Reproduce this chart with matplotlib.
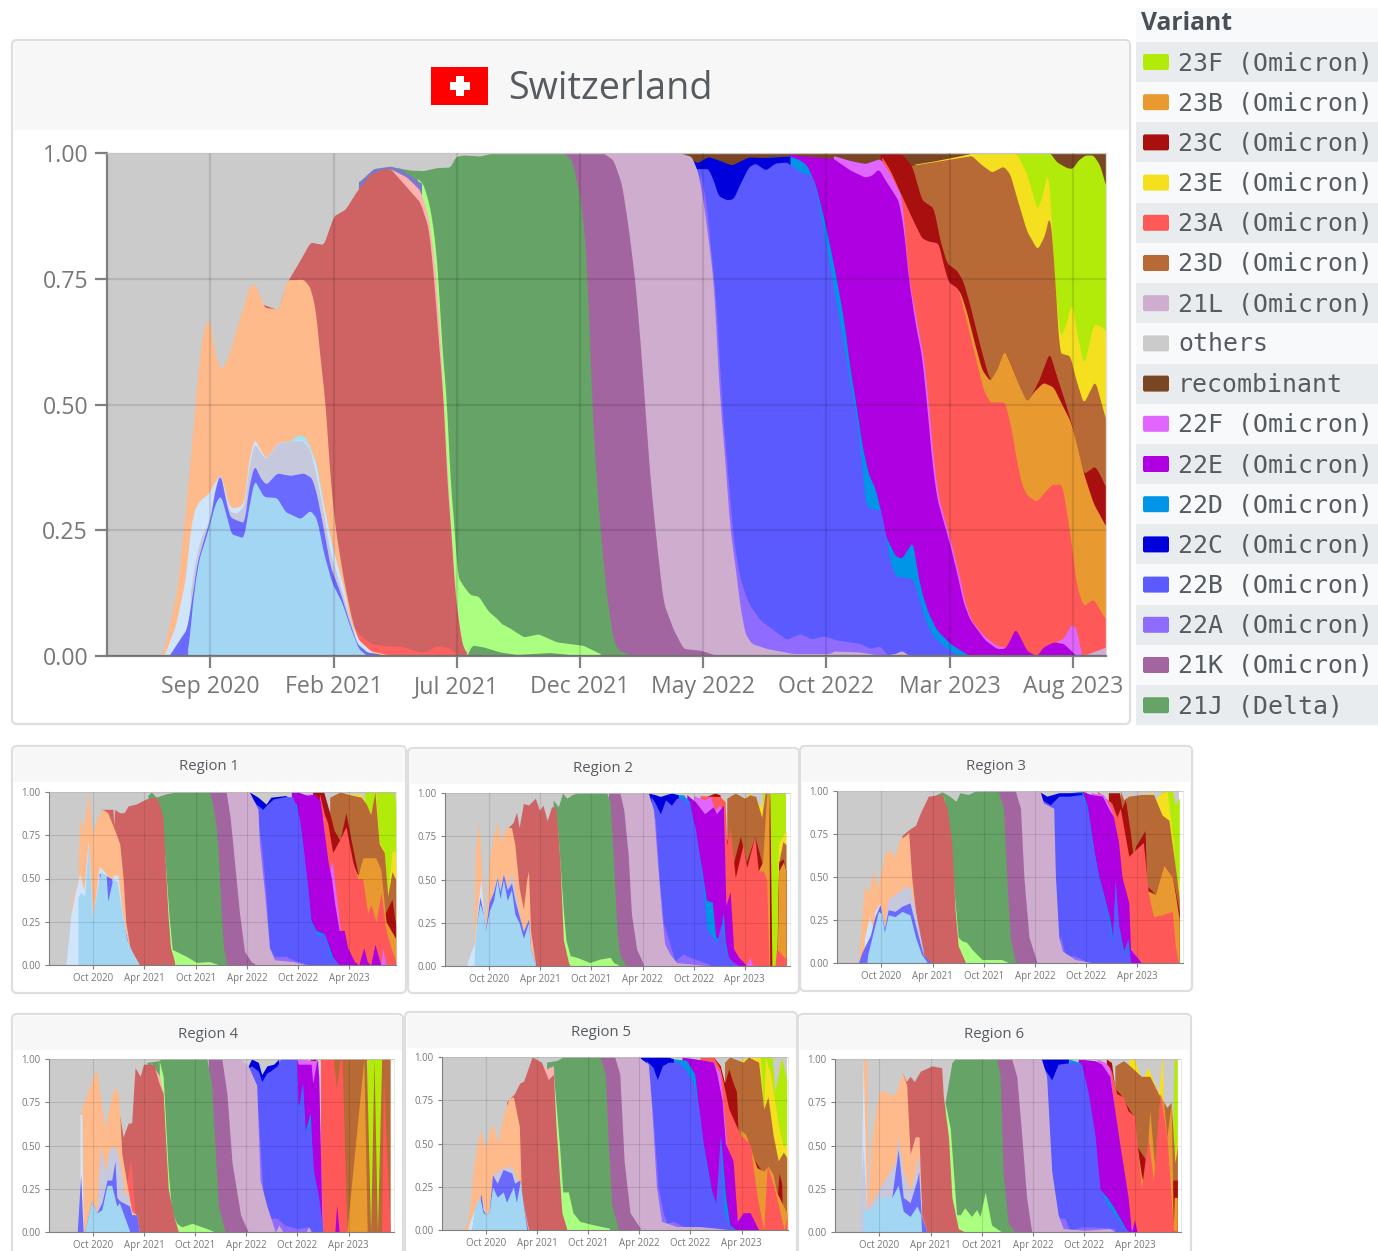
"""
Variant share per region: one large Switzerland stacked chart, six small regions.
Layers are kept as (month, cumulative share) lists. Month 0 = Jan 2020.
"""

import numpy as np
import matplotlib
matplotlib.use("Agg")
import matplotlib.pyplot as plt
from matplotlib.patches import FancyBboxPatch, Rectangle

W, H = 1378, 1251
FONT = "Open Sans"

COLORS = {
    "others": "#cbcbcb", "recombinant": "#7a4523", "23F": "#b2eb0a", "23E": "#f5e020",
    "23D": "#b86a36", "23C": "#a81010", "23B": "#e89a30", "23A": "#ff5858",
    "22F": "#e066ff", "22E": "#ae00e0", "22D": "#0095e6", "22C": "#0000dd",
    "22B": "#5a5aff", "22A": "#8f6bff", "21L": "#ceadcf", "21K": "#a3659f",
    "21J": "#66a366", "21I": "#aaff80", "21A": "#66a366", "20K": "#7a7ac8",
    "20J": "#ffb0b0", "20I": "#cf6363", "20H": "#ff6060", "20E": "#ffba8c",
    "20D": "#a0e3f5", "20G": "#cfe5fb", "20C": "#c6c9dd", "20B": "#6a6aff",
    "20A": "#a3d6f3",
}
# first painted (top of the stack) to last painted (bottom of the stack)
STACK = ["others", "recombinant", "23F", "23E", "23D", "23C", "23B", "23A", "22F", "22E",
         "22D", "22C", "22B", "22A", "21L", "21K", "21J", "21I", "21A", "20K", "20J",
         "20I", "20H", "20E", "20D", "20G", "20C", "20B", "20A"]

LEGEND_NAMES = ["23F (Omicron)", "23B (Omicron)", "23C (Omicron)", "23E (Omicron)",
                "23A (Omicron)", "23D (Omicron)", "21L (Omicron)", "others", "recombinant",
                "22F (Omicron)", "22E (Omicron)", "22D (Omicron)", "22C (Omicron)",
                "22B (Omicron)", "22A (Omicron)", "21K (Omicron)", "21J (Delta)"]
LEGEND_KEYS = ["23F", "23B", "23C", "23E", "23A", "23D", "21L", "others", "recombinant",
               "22F", "22E", "22D", "22C", "22B", "22A", "21K", "21J"]

MAIN_TICKS = [8, 13, 18, 23, 28, 33, 38, 43]
MAIN_TICK_LABELS = ["Sep 2020", "Feb 2021", "Jul 2021", "Dec 2021", "May 2022", "Oct 2022",
                    "Mar 2023", "Aug 2023"]
SMALL_TICKS = [9, 15, 21, 27, 33, 39]
SMALL_TICK_LABELS = ["Oct 2020", "Apr 2021", "Oct 2021", "Apr 2022", "Oct 2022", "Apr 2023"]
Y_TICKS = [0, 0.25, 0.5, 0.75, 1]
Y_TICK_LABELS = ["0.00", "0.25", "0.50", "0.75", "1.00"]

# ---- Switzerland ----
CH_others = [(3.81, 1), (44.34, 1)]
CH_recombinant = [(26.1, 1), (44.34, 1)]
CH_23F = [(40.71, 1), (42.07, 1), (42.34, .982), (42.74, .971), (42.97, .969), (43.21, .986),
          (43.48, .996), (43.82, .996), (44.09, .976), (44.34, .932)]
CH_23E = [(36.59, .978), (37.34, .984), (38.28, .993), (38.96, 1), (40.71, 1), (41.12, .959),
          (41.39, .912), (41.55, .886), (41.73, .912), (42.0, .969), (42.09, .892), (42.23, .757),
          (42.47, .63), (42.74, .663), (42.94, .707), (43.15, .643), (43.44, .576), (43.82, .66),
          (44.09, .657), (44.34, .646)]
CH_23D = [(36.4, .975), (38.89, .995), (39.23, .979), (39.7, .962), (40.17, .974), (40.44, .959),
          (40.71, .912), (41.12, .845), (41.55, .808), (41.86, .838), (42.04, .88), (42.13, .845),
          (42.34, .69), (42.44, .603), (42.88, .597), (43.08, .556), (43.42, .502), (43.89, .548),
          (44.34, .468)]
CH_23C = [(35.17, .998), (36.05, .998), (36.46, .975), (36.86, .907), (37.34, .891), (37.61, .825),
          (37.88, .781), (38.28, .767), (38.55, .744), (38.82, .697), (39.23, .616), (39.57, .556),
          (39.73, .546), (39.9, .569), (40.2, .609), (40.44, .583), (40.78, .542), (41.12, .502),
          (41.59, .546), (42.04, .604), (42.34, .556), (42.74, .495), (43.01, .448), (43.42, .362),
          (43.89, .378), (44.16, .354), (44.34, .334)]
CH_23B = [(38.28, .73), (38.42, .724), (38.69, .683), (38.96, .63), (39.3, .569), (39.63, .547),
          (39.9, .569), (40.2, .609), (40.44, .583), (40.78, .542), (41.12, .505), (41.39, .525),
          (41.79, .544), (42.2, .535), (42.6, .495), (42.88, .468), (43.08, .435), (43.42, .364),
          (43.82, .304), (44.34, .257)]
CH_23A = [(35.24, .993), (35.58, .966), (36.05, .915), (36.52, .865), (36.86, .831), (37.13, .825),
          (37.54, .821), (37.74, .778), (37.94, .744), (38.35, .73), (38.69, .663), (39.09, .583),
          (39.36, .529), (39.63, .505), (40.24, .505), (40.51, .448), (40.71, .388), (40.92, .341),
          (41.12, .32), (41.52, .307), (41.86, .327), (42.13, .341), (42.54, .342), (42.74, .287),
          (42.94, .22), (43.15, .139), (43.42, .099), (43.82, .114), (44.09, .092), (44.34, .072)]
CH_22F = [(33.28, .995), (33.96, .985), (34.56, .979), (35.17, .989), (35.58, .959), (36.05, .912),
          (36.32, .757), (36.66, .663), (36.93, .596), (37.13, .502), (37.34, .388), (37.54, .314),
          (37.81, .267), (38.08, .22), (38.35, .166), (38.62, .106), (38.89, .069), (39.43, .038),
          (39.9, .021), (40.24, .018), (40.31, 0), (42.2, 0), (42.34, .03), (42.61, .035),
          (42.94, .065), (43.15, .052), (43.35, 0)]
CH_22E = [(31.5, .998), (31.93, .995), (33.28, .989), (33.96, .966), (34.56, .952), (34.84, .956),
          (35.11, .969), (35.31, .952), (35.92, .905), (36.12, .851), (36.32, .751), (36.59, .663),
          (36.86, .596), (37.06, .502), (37.27, .388), (37.47, .314), (37.74, .267), (38.01, .22),
          (38.28, .166), (38.55, .106), (38.82, .072), (39.43, .032), (39.9, .015), (40.24, .015),
          (40.44, .032), (40.65, .055), (40.85, .038), (41.12, .011), (41.52, 0), (41.79, .018),
          (42.2, .028), (42.61, .025), (43.15, 0)]
CH_22D = [(30.44, .991), (31.52, .994), (31.93, .986), (32.2, .976), (32.54, .939), (32.88, .872),
          (33.15, .811), (33.42, .744), (33.69, .67), (33.96, .569), (34.23, .489), (34.43, .421),
          (34.7, .361), (34.97, .334), (35.17, .294), (35.38, .24), (35.78, .2), (36.05, .194),
          (36.25, .21), (36.5, .228), (36.66, .173), (36.86, .126), (37.13, .085), (37.47, .052),
          (38.01, .025), (38.82, 0)]
CH_22C = [(27.06, 1), (27.53, .989), (27.73, .98), (28.2, .993), (28.68, .985), (29.15, .976),
          (29.83, .992), (30.44, .991), (31.52, .994)]
CH_22B = [(27.6, .969), (28.2, .969), (28.41, .946), (28.61, .915), (28.95, .907), (29.22, .909),
          (29.49, .939), (29.83, .972), (30.1, .98), (30.53, .966), (30.91, .98), (31.38, .982),
          (31.85, .966), (31.93, .962), (32.4, .955), (32.61, .919), (32.88, .845), (33.15, .771),
          (33.42, .697), (33.69, .622), (33.96, .542), (34.23, .468), (34.43, .384), (34.57, .303),
          (34.7, .295), (35.17, .29), (35.31, .266), (35.51, .2), (35.78, .159), (36.5, .154),
          (36.73, .119), (37.0, .072), (37.34, .038), (37.74, .021), (38.35, 0)]
CH_22A = [(27.87, .966), (28.14, .892), (28.54, .69), (28.75, .502), (29.22, .233), (29.49, .153),
          (29.83, .106), (30.3, .072), (30.84, .052), (31.38, .033), (31.92, .045), (32.39, .034),
          (32.88, .04), (33.42, .032), (34.36, .025), (34.77, .015), (35.17, .02), (35.51, 0)]
CH_21L = [(23.8, 1), (27.06, 1), (27.53, .993), (27.8, .959), (28.03, .892), (28.21, .825),
          (28.41, .744), (28.54, .623), (28.68, .502), (28.88, .388), (29.08, .253), (29.29, .179),
          (29.49, .099), (29.69, .045), (29.96, .025), (30.57, .015), (31.65, .005), (33.14, .005),
          (33.28, .01), (34.36, .008), (35.24, .001), (35.78, .005), (36.05, .011), (36.39, 0),
          (43.35, 0), (44.34, .018)]
CH_21K = [(22.2, 1), (23.95, 1), (24.35, .986), (24.69, .938), (24.96, .851), (25.23, .744),
          (25.44, .623), (25.64, .489), (25.84, .354), (26.11, .22), (26.38, .106), (26.79, .052),
          (27.19, .015), (27.94, .011), (28.54, .001)]
CH_21J = [(15.57, .971), (16.11, .966), (16.65, .965), (17.19, .971), (17.73, .972), (17.95, .993),
          (18.27, .996), (18.95, .994), (19.35, .999), (19.76, 1), (22.33, 1), (22.67, .986),
          (23.0, .912), (23.21, .825), (23.34, .69), (23.48, .502), (23.61, .388), (23.81, .254),
          (24.08, .119), (24.35, .032), (24.56, .011), (25.17, .001)]
CH_21I = [(16.4, .95), (16.64, .938), (16.91, .892), (17.11, .825), (17.25, .744), (17.38, .623),
          (17.59, .502), (17.72, .354), (17.9, .251), (18.02, .159), (18.27, .139), (18.54, .122),
          (18.88, .119), (19.28, .089), (19.69, .072), (19.76, .066), (20.17, .055), (20.71, .038),
          (21.31, .044), (22.06, .028), (23.14, .021), (23.81, .005)]
CH_21A = [(18.4, 0), (18.61, .022), (19.08, .018), (19.76, .008), (20.44, .003), (21.79, .007),
          (23.14, 0)]
CH_20K = [(14.01, .942), (14.62, .969), (15.3, .974), (15.7, .969), (16.31, .949), (16.58, .939)]
CH_20J = [(15.03, .965), (15.3, .969), (15.97, .952), (16.51, .926), (16.85, .872), (17.05, .798),
          (17.19, .724), (17.37, .59), (17.55, .421), (17.76, .253), (17.95, .119), (18.22, .018),
          (18.5, 0)]
CH_20I = [(10.09, .7), (10.77, .688), (10.97, .724), (11.18, .749), (11.65, .788), (12.05, .823),
          (12.59, .818), (13.0, .875), (13.47, .888), (13.95, .925), (14.49, .958), (15.03, .969),
          (15.3, .969), (15.43, .962), (15.97, .932), (16.51, .902), (16.85, .851), (17.05, .757),
          (17.26, .623), (17.46, .502), (17.59, .354), (17.8, .22), (17.93, .119), (18.2, .025),
          (18.4, .005)]
CH_20H = [(13.81, .058), (14.08, .042), (14.49, .025), (15.16, .02), (15.7, .02), (16.51, .008),
          (16.85, .01), (17.12, .02), (17.59, .018), (18.0, .005), (18.2, 0)]
CH_20E = [(5.97, 0), (6.11, .011), (6.65, .132), (6.99, .287), (7.39, .502), (7.53, .583),
          (7.73, .653), (7.96, .672), (8.2, .596), (8.45, .568), (8.74, .596), (9.22, .677),
          (9.55, .73), (9.78, .743), (10.0, .717), (10.19, .693), (10.77, .69), (11.11, .748),
          (11.78, .749), (12.05, .733), (12.26, .69), (12.46, .59), (12.66, .502), (12.86, .354),
          (13.07, .253), (13.4, .153), (13.74, .072), (14.01, .032), (14.49, .011), (15.16, .003)]
CH_20D = [(11.2, .428), (11.65, .441), (11.92, .431), (12.32, .381), (12.59, .3), (13.0, .206)]
CH_20G = [(6.11, 0), (6.58, .059), (6.99, .153), (7.19, .254), (7.39, .297), (7.59, .31),
          (7.93, .324), (8.2, .347), (8.41, .364), (8.57, .334), (8.74, .3), (8.92, .294),
          (9.22, .298), (9.39, .31), (9.55, .388), (9.78, .433), (10.03, .411), (10.26, .392),
          (10.7, .424), (11.24, .428), (11.65, .43), (11.92, .425), (12.26, .385), (12.59, .3),
          (12.93, .22), (13.4, .139), (13.67, .072), (14.01, .032), (14.62, .005)]
CH_20C = [(7.19, .12), (7.32, .173), (7.59, .233), (7.93, .267), (8.27, .354), (8.41, .364),
          (8.57, .327), (8.78, .287), (9.08, .284), (9.39, .3), (9.55, .374), (9.78, .425),
          (10.03, .405), (10.26, .391), (10.7, .423), (11.24, .428), (11.78, .428), (12.05, .411),
          (12.32, .354), (12.59, .287), (12.86, .206), (13.27, .139), (13.61, .085), (13.95, .025),
          (14.35, .008)]
CH_20B = [(6.31, 0), (6.78, .035), (7.05, .055), (7.26, .119), (7.46, .186), (7.73, .233),
          (8.0, .274), (8.2, .334), (8.41, .364), (8.57, .321), (8.78, .277), (9.08, .27),
          (9.38, .265), (9.55, .334), (9.78, .381), (10.03, .354), (10.26, .341), (10.7, .364),
          (11.24, .359), (11.78, .364), (12.12, .354), (12.32, .32), (12.59, .253), (12.86, .179),
          (13.27, .126), (13.61, .072), (13.95, .025), (14.35, .008), (14.76, .005), (15.16, 0)]
CH_20A = [(7.08, .005), (7.19, .059), (7.32, .126), (7.53, .192), (7.86, .243), (8.2, .304),
          (8.41, .321), (8.61, .287), (8.84, .243), (9.35, .235), (9.55, .293), (9.78, .351),
          (10.16, .317), (10.7, .315), (11.04, .287), (11.65, .273), (12.05, .29), (12.32, .273),
          (12.59, .206), (12.93, .146), (13.34, .106), (13.67, .058), (14.01, .015), (14.35, .001)]

# ---- Region 1 ----
R1_others = [(3.81, 1), (44.47, 1)]
R1_23F = [(40.8, 1), (44.2, 1), (44.47, .93)]
R1_23E = [(39, .99), (40.4, .985), (41.5, .88), (42.1, 1), (42.5, .71), (43.1, .66), (43.5, .4),
          (44, .655), (44.47, .66)]
R1_23D = [(36.7, .97), (37.9, 1), (39, .985), (40.4, .97), (41, .93), (41.5, .87), (42, 1),
          (42.5, .7), (43.1, .65), (43.5, .4), (44, .54), (44.47, .49)]
R1_23C = [(34.7, 1), (36, 1), (36.7, .88), (37.2, .78), (37.9, .72), (38.6, .88), (39.3, .7),
          (40, .53), (40.6, .59), (41.2, .5), (42, .62), (42.6, .35), (43.2, .3), (44, .38),
          (44.47, .22)]
R1_23B = [(39.2, .6), (40, .52), (40.6, .62), (41.2, .62), (42.1, .62), (42.7, .55), (43.3, .25),
          (44.47, .15)]
R1_23A = [(35.5, .99), (36.08, .87), (36.47, .82), (37.05, .65), (37.83, .72), (38.61, .8),
          (39.39, .6), (39.98, .5), (40.56, .5), (41.15, .3), (41.54, .35), (42.13, .25),
          (42.71, .42), (43.3, .2), (43.88, .1), (44.47, .02)]
R1_22F = [(33.5, .985), (34.5, .99), (35.9, .85), (36.47, .52), (37, .6), (38, .18), (38.2, 0),
          (42.7, 0), (42.9, .1), (43.3, 0)]
R1_22E = [(32.2, 1), (33, 1), (34.1, .98), (34.9, .99), (35.6, .95), (36.1, .75), (36.5, .6),
          (36.9, .5), (37.3, .35), (37.8, .2), (38.4, .2), (38.8, .1), (39.6, .02), (40.1, 0),
          (40.7, .1), (41.1, .02), (41.5, 0), (42, .12), (42.7, 0)]
R1_22D = [(31.6, .98), (32.8, .93), (33.4, .75), (34.2, .4), (34.5, .26), (35.1, .2), (36.1, .18),
          (37, .05), (37.8, 0)]
R1_22C = [(27.3, 1), (28.3, .97), (29.25, .93), (29.8, .97), (31.6, .98)]
R1_22B = [(27.7, .96), (28.1, .93), (28.86, .9), (29.4, .93), (30.1, .96), (31.6, .975), (32.4, .97),
          (32.8, .9), (33.15, .85), (33.54, .7), (34.13, .45), (34.5, .25), (35.3, .17), (36.1, .18),
          (36.7, .05), (37.3, .03), (37.8, 0)]
R1_22A = [(27.7, .95), (28.7, .7), (29.25, .4), (29.64, .1), (30.23, .05), (31.6, .05), (32.4, .03),
          (34.3, 0)]
R1_21L = [(24, 1), (27.3, 1), (28.3, .9), (28.47, .7), (29.1, .4), (29.64, .1), (30.23, .03),
          (32.4, .02), (34, 0)]
R1_21K = [(22.4, 1), (24.57, 1), (25.04, .85), (25.54, .6), (26.13, .3), (26.71, .08), (27.5, .02),
          (28.1, 0)]
R1_21J = [(15.4, .98), (15.8, 1), (16.37, .97), (17.55, .99), (18.7, 1), (22.62, 1), (23, .93),
          (23.4, .8), (23.7, .6), (24, .3), (24.26, .1), (24.57, .02)]
R1_21I = [(16.37, .95), (16.95, .85), (17.43, .6), (17.85, .3), (18.25, .09), (19.9, .05),
          (21.1, .015), (22.62, .02), (23.8, 0)]
R1_20I = [(10, .9), (11.3, .9), (11.4, .8), (11.5, .9), (12.1, .88), (12.6, .88), (13.1, .92),
          (14, .93), (15.2, .96), (16.37, .97), (16.76, .93), (17.15, .85), (17.43, .6), (17.74, .3),
          (18.05, .1), (18.52, .02)]
R1_20E = [(6.4, .35), (7.2, .5), (7.4, .85), (7.8, .78), (8.4, 1), (8.9, .75), (9.4, .85), (10.1, .9),
          (10.7, .88), (11.5, .78), (12.1, .7), (12.5, .5), (12.8, .25), (13.3, .1), (14.3, .01)]
R1_20G = [(5.8, 0), (6.4, .3), (6.8, .4), (7.4, .53), (7.9, .43), (8.4, .72), (8.96, .27), (9.7, .57),
          (10.5, .53), (10.7, .38), (11.3, .52), (11.9, .52), (12.4, .3), (13.2, .1), (14, 0)]
R1_20B = [(9.7, .53), (10.3, .52), (11.1, .5), (11.7, .42), (12.5, .25), (13.1, .12), (13.6, .06),
          (14.2, 0)]
R1_20A = [(7.2, .39), (7.5, .42), (8, .4), (8.4, .7), (8.9, .27), (9.5, .45), (9.9, .54), (10.5, .52),
          (10.7, .37), (11.3, .5), (11.8, .48), (12.3, .32), (12.9, .15), (13.6, .07), (14.4, 0)]

# ---- Region 2 ----
R2_others = [(3.79, 1), (43.86, 1)]
R2_23F = [(41.2, 1), (43.86, 1)]
R2_23E = [(38.3, .98), (39, .97), (39.6, 1), (40.2, .97), (41, .92), (41.4, 1), (41.9, 1),
          (42.05, 0), (42.8, 0), (42.95, .7), (43.3, .74), (43.86, .78)]
R2_23D = [(36.9, .97), (37.9, 1), (39, .97), (39.6, .99), (40.3, .98), (41, .86), (41.4, 1), (41.9, 1),
          (42, 0), (42.75, 0), (43, .6), (43.5, .72), (43.86, .7)]
R2_23C = [(34.5, .98), (35.5, 1), (36.1, .99), (36.8, .75), (37.7, .6), (38.5, .75), (39.2, .6),
          (40.2, .75), (41, .6), (41.6, .5), (41.95, 1), (42.2, 0), (42.8, 0), (43, .6), (43.5, .62),
          (43.86, .55)]
R2_23B = [(40.6, .55), (41.1, .6), (41.6, 1), (41.85, 1), (41.95, 0), (42.8, 0), (43, .55), (43.55, .6),
          (43.86, .55)]
R2_23A = [(33.75, .985), (35.5, .98), (36.1, .98), (36.7, .95), (36.9, .7), (37.3, .8), (37.9, .51),
          (38.8, .7), (39.25, .57), (40.2, .75), (40.6, .55), (41.2, .55), (41.6, .5), (41.85, 0),
          (42.55, 0), (42.75, .1), (43.86, .04)]
R2_22F = [(33, .985), (34.3, .96), (35, .98), (35.5, .9), (36, .93), (36.5, .9), (36.8, .35),
          (37, 0), (39.2, 0), (39.6, .05), (40, 0)]
R2_22E = [(32.2, .99), (33.2, .95), (34.3, .88), (35.3, .92), (35.7, .88), (36.5, .93), (36.8, .35),
          (37.3, .43), (37.7, .1), (38.3, .05), (38.9, .02), (39.2, 0)]
R2_22D = [(30.9, .99), (31.8, .99), (32.5, .95), (33.4, .72), (34, .55), (34.5, .38), (35.2, .37),
          (35.6, .17), (36, .15), (36.5, .31), (36.7, .15), (37.1, .05), (37.7, 0)]
R2_22C = [(27.7, 1), (28.5, .99), (29.1, .98), (29.7, .99), (30.4, 1), (31.2, .99)]
R2_22B = [(28, .98), (28.5, .94), (29.1, .88), (29.7, .96), (30.4, .93), (31, .97), (31.8, .97),
          (32.5, .93), (33.2, .8), (34, .52), (34.6, .21), (35.2, .17), (35.7, .14), (36.3, .25),
          (36.7, .1), (37.1, .05), (37.7, .02), (38.45, 0)]
R2_22A = [(28.2, .88), (28.5, .85), (28.9, .55), (29.45, .25), (30.2, .13), (30.8, .03), (31.8, .07),
          (32.6, .05), (33.75, .03), (34.9, .01)]
R2_21L = [(24.2, 1), (27.7, 1), (28.3, .9), (28.75, .6), (29.25, .3), (29.6, .13), (30.2, .07),
          (31, .02), (33, .01), (34.9, 0)]
R2_21K = [(23, 1), (24.35, 1), (24.8, .9), (25.3, .65), (25.7, .3), (26.3, .1), (27.1, .01)]
R2_21J = [(16.5, .96), (17.1, .92), (17.6, 1), (18.1, .97), (18.7, .99), (19.3, 1), (22.8, 1),
          (23.2, .95), (23.6, .6), (24, .2), (24.35, .06), (25.1, 0)]
R2_21I = [(16.7, .93), (17.1, .75), (17.3, .6), (17.7, .32), (18, .15), (18.5, .06), (19.3, .05),
          (20.8, .02), (22, .04), (23.2, .05), (23.6, .02), (24.35, 0)]
R2_20I = [(10.9, .79), (11.2, .8), (11.8, .83), (12.2, .89), (12.5, .8), (13, .94), (13.6, .93),
          (14.4, .97), (14.9, .9), (15.3, .93), (15.8, .84), (16.3, .92), (16.8, .92), (17.1, .75),
          (17.3, .6), (17.7, .15), (18.3, .02), (18.5, 0)]
R2_20E = [(7.1, .1), (7.4, .7), (7.8, .83), (8.1, .5), (8.5, .2), (9, .62), (9.5, .75), (9.9, .83),
          (10.25, .72), (11, .8), (11.6, .8), (12, .7), (12.5, .45), (13, .33), (13.4, .5), (13.6, .55),
          (13.85, .2), (14.4, .02)]
R2_20G = [(6.3, 0), (6.8, .08), (7.2, .12), (7.6, .33), (8, .5), (8.3, .32), (8.5, .2)]
R2_20C = [(8.5, .2), (9, .37), (9.5, .45), (9.9, .52), (10.25, .46), (10.65, .54), (11.1, .46),
          (11.6, .54), (12, .45), (12.5, .3), (13, .2), (13.6, .27), (13.85, .1), (14.4, .01)]
R2_20B = [(7.5, .25), (7.9, .4), (8.3, .3), (8.5, .2), (9, .37), (9.5, .43), (9.9, .51), (10.25, .43),
          (10.65, .53), (11.1, .44), (11.6, .48), (12, .38), (12.5, .29), (13, .2), (13.6, .27),
          (13.85, .1), (14.4, .01)]
R2_20A = [(7.2, 0), (7.3, .15), (7.5, .25), (7.9, .36), (8.3, .3), (8.5, .2), (9, .32), (9.5, .38),
          (9.9, .5), (10.25, .39), (10.65, .5), (11.1, .38), (11.6, .44), (12, .3), (12.5, .25),
          (13, .16), (13.6, .25), (13.85, .1), (14.4, .01)]

# ---- Region 3 ----
R3_others = [(3.8, 1), (43.92, 1)]
R3_23F = [(41.9, 1), (43.1, 1), (43.45, .92), (43.92, .96)]
R3_23E = [(39.5, 1), (40, .95), (40.7, 1), (40.9, .92), (41.5, .98), (42.5, 1), (43.2, .7), (43.6, .4),
          (43.92, .5)]
R3_23D = [(37, 1), (37.4, .95), (38, .97), (39.5, .98), (40.9, .98), (41.9, .86), (42.7, .83),
          (43.6, .5), (43.92, .37)]
R3_23C = [(35.6, .99), (36.9, .99), (37.2, .9), (37.6, .95), (38.2, .75), (38.5, .62), (38.8, .68),
          (39.9, .77), (40.1, .45), (41.1, .4), (42.1, .57), (43.1, .5), (43.6, .38), (43.92, .3)]
R3_23B = [(38.8, .6), (39.3, .5), (39.6, .7), (40.2, .42), (41.1, .4), (42.1, .57), (43.1, .5),
          (43.45, .4), (43.92, .25)]
R3_23A = [(34.3, 1), (36, .93), (36.6, .85), (37, .9), (38, .62), (38.8, .66), (39.7, .7), (40.3, .4),
          (40.9, .27), (41.9, .28), (43.1, .3), (43.45, .1), (43.8, 0)]
R3_22F = [(33.5, .99), (35, .98), (35.9, .9), (36.4, .8), (37, .55), (38, .1), (39.5, 0)]
R3_22E = [(32.5, 1), (33.5, .98), (34.9, .97), (35.6, .9), (36.2, .85), (36.8, .7), (37.2, .5),
          (38, .35), (38.2, .08), (39.5, 0)]
R3_22D = [(31.1, .99), (32.5, 1), (33.1, .92), (33.9, .66), (34.45, .51), (35, .41), (35.8, .25),
          (36.1, .15), (36.4, .48), (36.8, .22), (37.4, .07), (37.9, .14), (38.2, 0)]
R3_22C = [(27.4, 1), (28.4, .97), (29.8, .99), (31, .99), (32.5, .99)]
R3_22B = [(27.8, .95), (28.8, .92), (29.8, .97), (31, .97), (32.5, .98), (33.1, .9), (33.9, .65),
          (34.45, .5), (35, .4), (35.6, .25), (36.1, .12), (36.4, .47), (36.8, .2), (37.4, .05),
          (37.8, .13), (38.2, 0)]
R3_22A = [(28, .9), (29.4, .5), (29.65, .05), (30, .16), (30.5, .05), (31.7, .04), (33, .01)]
R3_21L = [(24, 1), (27.6, 1), (28, .93), (29.2, .9), (29.4, .5), (29.8, .15), (30.2, .07), (31.7, .02),
          (34, 0)]
R3_21K = [(22.5, 1), (24.7, 1), (25.3, .9), (25.7, .5), (26.3, .15), (27.2, .01)]
R3_21J = [(15.1, .97), (16.1, .995), (17, .97), (17.75, .94), (18.2, .99), (19.2, .98), (20, 1),
          (22.7, 1), (23.3, .9), (23.7, .5), (24.1, .15), (24.7, .01)]
R3_21I = [(16.3, .97), (17, .7), (17.65, .35), (18, .15), (18.4, .13), (19, .12), (19.6, .08),
          (20.8, .02), (23.1, .02), (24, 0)]
R3_20I = [(11.4, .74), (12.35, .78), (13, .8), (13.55, .87), (14.5, .97), (16.1, .98), (16.7, .9),
          (17.25, .7), (17.65, .3), (18, .1), (18.8, .01)]
R3_20E = [(6.3, 0), (7, .45), (7.5, .41), (8.1, .54), (8.5, .43), (9, .55), (9.45, .63), (9.8, .66),
          (10.6, .62), (11.1, .72), (11.8, .74), (12.2, .76), (12.55, .5), (13.1, .25), (13.7, .07),
          (14.5, .01)]
R3_20G = [(7, .14), (7.6, .27), (8, .2), (8.25, .3), (8.85, .35), (9.35, .2)]
R3_20C = [(9.35, .2), (9.8, .37), (10.6, .4), (11.4, .43), (12, .45), (12.35, .44), (13, .3), (13.9, .07)]
R3_20B = [(6.3, 0), (6.7, .06), (7.3, .12), (7.7, .16), (8.25, .27), (8.85, .34), (9.35, .2), (9.8, .31),
          (10.6, .3), (11.4, .33), (12.35, .35), (13, .22), (13.9, .05), (14.7, .01)]
R3_20A = [(7.3, 0), (7.4, .05), (7.9, .15), (8.65, .3), (9, .29), (9.35, .18), (9.8, .28), (10.6, .27),
          (11.4, .3), (12.35, .28), (13, .15), (13.7, .05), (14.3, .01)]

# ---- Region 4 ----
R4_others = [(3.78, 1), (43.9, 1)]
R4_23F = [(41.15, 1), (42.95, 1), (43, 0)]
R4_23D = [(37.2, 1), (41.1, 1), (41.6, 0), (42, 1), (42.4, 0), (42.9, 1), (43.9, 1)]
R4_23B = [(38.8, 0), (40.8, 1), (41.2, 0)]
R4_23A = [(35.7, 1), (37.2, 1), (37.6, .83), (38, 1), (38.25, 1), (38.8, 0), (42.9, 0), (43.1, .9),
          (43.9, 0)]
R4_22F = [(33, 1), (35.4, .99), (35.6, .6), (36, 0)]
R4_22E = [(32.9, 1), (33.1, .97), (34.6, .97), (34.8, .86), (35.3, 1), (35.5, .9), (35.9, 0),
          (37.4, 0), (37.6, .16), (37.9, 0)]
R4_23C = [(34.5, 1), (35.2, 1), (34.85, .92)]
R4_22D = [(33, .75), (33.3, .72), (33.6, .87), (33.9, .58), (34.5, .69), (34.8, .35)]
R4_22C = [(27.2, .96), (27.6, 1), (28.4, .98), (28.8, .91), (29.4, .96), (30.2, .97), (30.8, 1)]
R4_22B = [(27.2, .95), (27.6, .96), (28.4, .93), (28.8, .87), (29.4, .92), (29.8, .93), (30.6, .96),
          (31, 1), (32.9, 1), (33.1, .7), (33.5, .85), (33.9, .58), (34.5, .62), (34.9, .35), (35.5, .2),
          (36, 0)]
R4_22A = [(27.4, .93), (28.2, .8), (29, .2), (29.8, .08), (30.6, .08), (31.5, .04), (33, .02), (34.3, .03),
          (34.8, 0)]
R4_21L = [(24, 1), (26.25, 1), (27.2, .96), (28.2, .85), (28.6, .3), (29.4, .15), (30.4, 0), (30.8, .04),
          (31.3, 0), (34, 0), (34.3, .03), (34.6, 0)]
R4_21K = [(22.5, 1), (24.1, 1), (24.7, .8), (25.3, .4), (26.3, .1), (27.2, 0)]
R4_21J = [(15.3, .98), (16.65, .99), (17, 1), (22.35, 1), (22.9, .85), (23.3, .5), (23.7, .15), (24.5, 0)]
R4_21I = [(16.75, .99), (17.2, .9), (17.8, .35), (18.2, .12), (18.8, .05), (19.4, .03), (20.6, .05),
          (22.35, .02), (23.3, 0)]
R4_20J = [(15.8, .98), (16.8, .9), (17.2, .8), (17.4, .5)]
R4_20I = [(11.5, .84), (12.5, .55), (13.1, .63), (13.5, .63), (13.9, .95), (14.5, .9), (14.9, .97),
          (16.1, .97), (16.65, .87), (17.2, .8), (17.8, .25), (18.4, .1), (19, 0)]
R4_20H = [(13, .3), (13.4, .42), (13.9, .1), (14.5, 0)]
R4_20E = [(7.4, .68), (9, .9), (9.4, .94), (10.3, .6), (11, .75), (11.5, .84), (11.95, .8), (12.35, .45),
          (13.5, .12), (14.1, .1), (14.4, 0)]
R4_20G = [(7.4, .68), (7.65, .68), (7.8, 0)]
R4_20C = [(9.4, .11), (9.8, .5), (10.4, .35), (10.8, .47), (11.55, .5), (12.1, .4), (12.7, .22),
          (13.1, .22), (13.5, .11)]
R4_20B = [(7.1, 0), (7.5, .33), (7.8, 0), (7.95, 0), (8.8, .18), (9.4, .11), (10, .17), (10.6, .3),
          (11.15, .3), (11.55, .41), (11.75, .2), (12.1, .18), (13.25, .15), (13.5, .1), (14.1, .1),
          (14.4, 0)]
R4_20A = [(7.95, 0), (8.8, .18), (9.4, .11), (10, .13), (10.6, .27), (11.15, .27), (11.75, .15),
          (12.05, .17), (13.3, 0)]

# ---- Region 5 ----
R5_others = [(3.82, 1), (44.3, 1)]
R5_23F = [(41.1, 1), (42.6, 1), (42.9, .8), (43.7, 1), (44.3, .87)]
R5_23E = [(38.8, .98), (39.8, 1), (41.2, 1), (41.6, .67), (41.8, 1), (42.4, .9), (43.35, .6), (43.9, .48),
          (44.3, .5)]
R5_23D = [(37, .97), (37.6, 1), (39.2, .97), (39.8, 1), (41, .97), (41.6, .7), (42.1, .77), (42.7, .55),
          (43.3, .4), (43.9, .45), (44.3, .42)]
R5_23C = [(35.7, 1), (36.5, .95), (37, .85), (37.5, .93), (38, .85), (38.4, .8), (38.6, .55), (43.2, .2),
          (43.4, .33), (43.7, .27), (43.8, .1), (44.3, .1)]
R5_23B = [(38.9, .58), (39.5, .55), (40.8, .36), (41.6, .34), (42.1, .37), (42.7, .32), (43.1, .22),
          (44.3, .1)]
R5_23A = [(34.1, 1), (35.7, 1), (36.5, .93), (37.5, .7), (38.85, .55), (40, .5), (40.8, .2), (41.6, 0),
          (42, .37), (42.8, .25), (44, 0), (44.3, .08)]
R5_22F = [(33.1, .99), (35.7, .97), (36.5, .9), (37.4, .42), (38.5, .06), (41, 0)]
R5_22E = [(32, 1), (33.4, .99), (34.7, .98), (35.7, .97), (36.1, .9), (36.7, .75), (37.1, .5), (38, .4),
          (38.5, .05), (39.2, .1), (40, .1), (40.4, .06), (41, 0)]
R5_22D = [(31, .99), (32.55, .98), (33.5, .9), (34.3, .55), (35.5, .22), (36, .15), (36.55, .54),
          (37.1, .2), (37.6, .03), (38.4, 0)]
R5_22C = [(27.1, 1), (29, 1), (30.3, 1), (31, .99)]
R5_22B = [(27.8, .98), (28.6, .94), (29.1, .87), (29.7, .95), (30.4, .97), (31.6, .97), (32.55, .92),
          (33.35, .85), (34, .7), (34.75, .4), (35.55, .2), (35.95, .14), (36.5, .55), (36.9, .12),
          (37.45, .03), (38.2, 0)]
R5_22A = [(28.1, .93), (28.6, .65), (29.2, .25), (29.8, .1), (30.2, .04), (31, .05), (32.2, .02),
          (36.5, .01)]
R5_21L = [(24, 1), (26.9, 1), (28.05, .96), (28.45, .7), (29, .25), (29.6, .05), (31.4, .02), (34.1, .02),
          (38, 0)]
R5_21K = [(22, 1), (24.1, 1), (24.7, .9), (25.2, .4), (25.9, .1), (27.1, .01)]
R5_21J = [(16.1, .97), (17.3, .98), (18.05, 1), (22.4, 1), (23, .9), (23.35, .5), (23.75, .15), (24.5, .01)]
R5_21I = [(16.4, .95), (17, .85), (17.6, .5), (18, .22), (18.65, .22), (19.2, .1), (20, .05), (21.6, .03),
          (23.5, .01)]
R5_20J = [(15.5, .96), (16.1, .93), (16.9, .95), (17.2, .6), (17.5, .3)]
R5_20I = [(11.4, .74), (12.35, .79), (12.95, .85), (13.4, .86), (14.4, 1), (15.5, .97), (16.3, .87),
          (16.9, .9), (17.2, .6), (17.9, .1), (18.45, .01)]
R5_20E = [(6.3, 0), (6.9, .05), (7.55, .38), (8.25, .58), (8.95, .47), (9.5, .6), (9.9, .6), (10.3, .5),
          (11.1, .68), (11.7, .76), (12.2, .77), (12.9, .6), (13.15, .2), (13.95, .01)]
R5_20G = [(6.9, .02), (7.5, .1), (8.25, .19), (8.95, .1)]
R5_20C = [(9.35, .12), (9.8, .32), (10.6, .35), (12, .37), (12.55, .3), (13.1, .25), (13.4, .1)]
R5_20B = [(7.35, .01), (7.55, .08), (7.95, .1), (8.4, .21), (8.65, .12), (8.95, .09), (9.35, .1),
          (9.75, .32), (10.3, .27), (11, .35), (12, .33), (12.35, .27), (12.95, .29), (13.35, .15),
          (13.85, .01)]
R5_20A = [(7.3, 0), (7.65, .13), (8.25, .19), (8.65, .1), (8.95, .09), (9.35, .1), (9.75, .25), (10.3, .19),
          (11, .22), (11.4, .16), (12.2, .25), (12.55, .16), (13, .28), (13.35, .15), (13.75, .01)]

# ---- Region 6 ----
R6_others = [(3.8, 1), (43.92, 1)]
R6_23F = [(43.3, .5), (43.55, 1), (43.92, 1)]
R6_23E = [(38.2, 1), (38.9, 1), (39.7, .88), (40.5, .95), (41.7, .8), (42.1, 1), (42.2, 1), (42.4, 0),
          (43.1, 0), (43.3, .5), (43.55, .4), (43.92, .55)]
R6_23D = [(36.6, .96), (37.6, .99), (38.15, .97), (39.7, .9), (40.7, .9), (41.7, .8), (42.7, .72), (43.2, .75),
          (43.45, .55), (43.65, .4), (43.92, .5)]
R6_23C = [(35.6, 1), (36.2, .98), (36.6, .83), (37.2, .8), (38.15, .72), (38.9, .66), (39.1, .5), (43.2, .2),
          (43.4, .3), (43.92, .3)]
R6_23B = [(38.9, .6), (39.7, .33), (40.1, .25), (40.7, .7), (41.3, .35), (41.9, .8), (42.3, .75), (42.7, .55),
          (43.2, .75), (43.45, .02), (43.55, .2), (43.92, .2)]
R6_23A = [(35.6, .97), (36.2, .93), (36.8, .8), (37.6, .78), (38.15, .7), (38.9, .67), (39.7, .25),
          (40.5, .55), (41.1, .3), (41.9, .8), (42.7, .55), (43.45, .01), (43.92, .01)]
R6_22F = [(34.5, 1), (35.5, .98), (36, .95), (36.8, .6), (38, .1), (38.9, 0)]
R6_22E = [(32.3, 1), (34.3, .99), (35.05, .97), (36, .9), (36.6, .7), (37.2, .5), (38.15, .2), (38.55, 0),
          (38.9, .07), (39.2, 0)]
R6_22D = [(31.2, 1), (32.5, .98), (33.4, .78), (34, .56), (34.6, .26), (35.7, .2), (36.5, .14), (37.3, .07),
          (38.1, 0)]
R6_22C = [(27.9, 1), (30.4, 1), (31.2, 1)]
R6_22B = [(28, .97), (29.2, .88), (29.95, .97), (31.55, .98), (32.7, .97), (33.5, .8), (34.3, .55), (34.85, .25),
          (35.85, .15), (36.6, .1), (37.6, .03), (38.35, 0)]
R6_22A = [(28.2, .95), (29.2, .35), (29.95, .08), (30.75, .08), (31.3, .01), (32.7, .03), (33.9, .03),
          (36.6, .02)]
R6_21L = [(24, 1), (28, 1), (28.6, .9), (29.2, .35), (29.95, .1), (30.55, .02), (33.1, .01), (36, .02), (36.6, 0)]
R6_21K = [(22.3, 1), (24.5, 1), (25.1, .9), (25.7, .55), (26.25, .2), (26.85, 0)]
R6_21J = [(16.7, .75), (17.5, .98), (17.9, 1), (22.75, 1), (23.15, .9), (23.5, .35), (24.1, .05), (24.9, 0)]
R6_21I = [(16.7, .75), (17.3, .6), (18.05, .1), (18.5, .1), (19, .14), (19.8, .09), (20.4, .13), (20.8, .09),
          (21.4, .23), (22.15, .04), (23.35, 0)]
R6_20I = [(11.7, .92), (12.15, .87), (12.6, .9), (13.1, .87), (13.8, .93), (15.15, .96), (16.3, .95), (16.5, .78),
          (17.1, .55), (17.5, .2), (18.25, .02), (19, 0)]
R6_20E = [(7.1, 1), (7.5, 1), (7.7, .13), (8, .5), (8.9, .8), (9.45, .82), (10.25, .79), (10.85, .8), (11.7, .92),
          (12.2, .85), (12.6, .45), (13.2, .55), (13.65, .55), (13.95, .1), (14.55, 0)]
R6_20G = [(6.8, 0), (7.1, 1), (7.5, .13)]
R6_20C = [(6.55, 0), (7.1, .5), (7.5, .13), (10.85, .4), (11.2, .55), (11.8, .35), (12.6, .24), (13.2, .35),
          (13.6, .45), (13.95, .13)]
R6_20B = [(10.45, .2), (11.2, .48), (11.8, .2), (12.6, .17), (13.4, .3), (13.6, .35), (13.9, .1), (14.55, 0)]
R6_20A = [(7.1, .13), (8, .13), (9.1, .2), (10, .2), (10.45, .2), (11.2, .27), (11.8, .12), (12.6, .09),
          (13.4, .15), (13.85, .1), (13.95, 0)]

LAYERS_CH = {"others": CH_others, "recombinant": CH_recombinant, "23F": CH_23F, "23E": CH_23E, "23D": CH_23D,
             "23C": CH_23C, "23B": CH_23B, "23A": CH_23A, "22F": CH_22F, "22E": CH_22E, "22D": CH_22D,
             "22C": CH_22C, "22B": CH_22B, "22A": CH_22A, "21L": CH_21L, "21K": CH_21K, "21J": CH_21J,
             "21I": CH_21I, "21A": CH_21A, "20K": CH_20K, "20J": CH_20J, "20I": CH_20I, "20H": CH_20H,
             "20E": CH_20E, "20D": CH_20D, "20G": CH_20G, "20C": CH_20C, "20B": CH_20B, "20A": CH_20A}
LAYERS_R1 = {"others": R1_others, "23F": R1_23F, "23E": R1_23E, "23D": R1_23D, "23C": R1_23C, "23B": R1_23B,
             "23A": R1_23A, "22F": R1_22F, "22E": R1_22E, "22D": R1_22D, "22C": R1_22C, "22B": R1_22B,
             "22A": R1_22A, "21L": R1_21L, "21K": R1_21K, "21J": R1_21J, "21I": R1_21I, "20I": R1_20I,
             "20E": R1_20E, "20G": R1_20G, "20B": R1_20B, "20A": R1_20A}
LAYERS_R2 = {"others": R2_others, "23F": R2_23F, "23E": R2_23E, "23D": R2_23D, "23C": R2_23C, "23B": R2_23B,
             "23A": R2_23A, "22F": R2_22F, "22E": R2_22E, "22D": R2_22D, "22C": R2_22C, "22B": R2_22B,
             "22A": R2_22A, "21L": R2_21L, "21K": R2_21K, "21J": R2_21J, "21I": R2_21I, "20I": R2_20I,
             "20E": R2_20E, "20G": R2_20G, "20C": R2_20C, "20B": R2_20B, "20A": R2_20A}
LAYERS_R3 = {"others": R3_others, "23F": R3_23F, "23E": R3_23E, "23D": R3_23D, "23C": R3_23C, "23B": R3_23B,
             "23A": R3_23A, "22F": R3_22F, "22E": R3_22E, "22D": R3_22D, "22C": R3_22C, "22B": R3_22B,
             "22A": R3_22A, "21L": R3_21L, "21K": R3_21K, "21J": R3_21J, "21I": R3_21I, "20I": R3_20I,
             "20E": R3_20E, "20G": R3_20G, "20C": R3_20C, "20B": R3_20B, "20A": R3_20A}
LAYERS_R4 = {"others": R4_others, "23F": R4_23F, "23D": R4_23D, "23C": R4_23C, "23B": R4_23B,
             "23A": R4_23A, "22F": R4_22F, "22E": R4_22E, "22D": R4_22D, "22C": R4_22C, "22B": R4_22B,
             "22A": R4_22A, "21L": R4_21L, "21K": R4_21K, "21J": R4_21J, "21I": R4_21I, "20J": R4_20J,
             "20I": R4_20I, "20H": R4_20H, "20E": R4_20E, "20G": R4_20G, "20C": R4_20C, "20B": R4_20B,
             "20A": R4_20A}
LAYERS_R5 = {"others": R5_others, "23F": R5_23F, "23E": R5_23E, "23D": R5_23D, "23C": R5_23C, "23B": R5_23B,
             "23A": R5_23A, "22F": R5_22F, "22E": R5_22E, "22D": R5_22D, "22C": R5_22C, "22B": R5_22B,
             "22A": R5_22A, "21L": R5_21L, "21K": R5_21K, "21J": R5_21J, "21I": R5_21I, "20J": R5_20J,
             "20I": R5_20I, "20E": R5_20E, "20G": R5_20G, "20C": R5_20C, "20B": R5_20B, "20A": R5_20A}
LAYERS_R6 = {"others": R6_others, "23F": R6_23F, "23E": R6_23E, "23D": R6_23D, "23C": R6_23C, "23B": R6_23B,
             "23A": R6_23A, "22F": R6_22F, "22E": R6_22E, "22D": R6_22D, "22C": R6_22C, "22B": R6_22B,
             "22A": R6_22A, "21L": R6_21L, "21K": R6_21K, "21J": R6_21J, "21I": R6_21I, "20I": R6_20I,
             "20E": R6_20E, "20G": R6_20G, "20C": R6_20C, "20B": R6_20B, "20A": R6_20A}

# title, layers, card (l, t, r, b), axes (l, t, r, b), xlim
PANELS = [
    ("Region 1", LAYERS_R1, (12, 746, 406, 993), (49, 792, 396, 965), (3.81, 44.47)),
    ("Region 2", LAYERS_R2, (408, 748, 799, 993), (445, 793, 790, 966), (3.79, 44.33)),
    ("Region 3", LAYERS_R3, (800, 746, 1192, 991), (837, 791, 1183, 963), (3.8, 44.35)),
    ("Region 4", LAYERS_R4, (12, 1014, 403, 1262), (49, 1059, 394, 1232), (3.78, 44.35)),
    ("Region 5", LAYERS_R5, (405, 1012, 797, 1262), (442, 1057, 788, 1230), (3.82, 44.45)),
    ("Region 6", LAYERS_R6, (798, 1014, 1191, 1262), (835, 1059, 1181, 1232), (3.8, 44.35)),
]


def px_axes(fig, box):
    l, t, r, b = box
    return fig.add_axes([l / W, 1 - b / H, (r - l) / W, (b - t) / H])


def draw_layers(ax, layers, smooth=0):
    for key in STACK:
        if key not in layers:
            continue
        xs, ys = zip(*layers[key])
        x, y = np.array(xs, float), np.array(ys, float)
        if smooth:
            # soften the read-off corners a little, the source curve is a spline
            gx = np.arange(x[0], x[-1] + 0.01, 0.02)
            gy = np.interp(gx, x, y)
            pad = np.pad(gy, smooth, mode="edge")
            gy = np.convolve(pad, np.ones(2 * smooth + 1) / (2 * smooth + 1), mode="valid")
            x, y = gx, gy
        ax.fill_between(x, 0, y, color=COLORS[key], lw=0, zorder=2)


def style_axes(ax, xlim, ticks, labels, fs, ticklen, lw, pad):
    ax.set_xlim(*xlim)
    ax.set_ylim(0, 1)
    ax.set_xticks(ticks)
    ax.set_xticklabels(labels, fontsize=fs, color="#777777", family=FONT)
    ax.set_yticks(Y_TICKS)
    ax.set_yticklabels(Y_TICK_LABELS, fontsize=fs, color="#777777", family=FONT)
    ax.tick_params(axis="both", length=ticklen, width=lw, color="#808080", pad=pad)
    ax.grid(True, color="black", alpha=0.11, lw=lw, zorder=5)
    ax.set_axisbelow(False)
    for side in ("top", "right"):
        ax.spines[side].set_color("#dddddd")
        ax.spines[side].set_linewidth(lw * 0.6)
    for side in ("left", "bottom"):
        ax.spines[side].set_color("#808080")
        ax.spines[side].set_linewidth(lw)


def card(bg, box, header_bottom):
    l, t, r, b = box
    bg.add_patch(FancyBboxPatch((l, t), r - l, b - t, boxstyle="round,pad=0,rounding_size=5",
                                fc="white", ec="#dedede", lw=1.6, zorder=1))
    bg.add_patch(Rectangle((l + 1.5, t + 1.5), r - l - 3, header_bottom - t - 1.5, fc="#f7f7f7", ec="none",
                           zorder=2))


def main():
    fig = plt.figure(figsize=(W / 100, H / 100), dpi=100, facecolor="white")

    bg = fig.add_axes([0, 0, 1, 1])
    bg.set_xlim(0, W)
    bg.set_ylim(H, 0)
    bg.axis("off")

    # Switzerland card with flag
    card(bg, (12, 40, 1130, 724), 130)
    bg.add_patch(Rectangle((431, 67), 57, 38, fc="#fe0000", ec="none", zorder=3))
    bg.add_patch(Rectangle((456, 76), 7.5, 20, fc="white", ec="none", zorder=4))
    bg.add_patch(Rectangle((449.5, 82.2), 20.5, 7.5, fc="white", ec="none", zorder=4))
    bg.text(610, 89, "Switzerland", ha="center", va="center", fontsize=27.2, color="#555b61", family=FONT, zorder=5)

    ax = px_axes(fig, (107, 153, 1106, 656))
    draw_layers(ax, LAYERS_CH, smooth=4)
    style_axes(ax, (3.81, 44.34), MAIN_TICKS, MAIN_TICK_LABELS, 16.7, 8.6, 1.6, 5)

    # legend
    bg.add_patch(Rectangle((1136, 8), 242, 717, fc="#f8f9fa", ec="none", zorder=1))
    bg.text(1141, 23, "Variant", ha="left", va="center", fontsize=17.7, fontweight="bold", color="#495057",
            family=FONT, zorder=5)
    for i, (name, key) in enumerate(zip(LEGEND_NAMES, LEGEND_KEYS)):
        yc = 62 + i * 40.2
        if i % 2 == 0:
            bg.add_patch(Rectangle((1136, yc - 20), 242, 40, fc="#e9ecef", ec="none", zorder=2))
        bg.add_patch(FancyBboxPatch((1143, yc - 8), 26, 16, boxstyle="round,pad=0,rounding_size=2",
                                    fc=COLORS[key], ec="none", zorder=3))
        bg.text(1178, yc + 1, name, ha="left", va="center", fontsize=17.9, color="#555b61",
                family="DejaVu Sans Mono", zorder=5)

    # small region charts
    for title, layers, box, axbox, xlim in PANELS:
        card(bg, box, box[1] + 36)
        bg.text((box[0] + box[2]) / 2, box[1] + 20.5, title, ha="center", va="center", fontsize=10.7,
                color="#555b61", family=FONT, zorder=5)
        sub = px_axes(fig, axbox)
        draw_layers(sub, layers)
        style_axes(sub, xlim, SMALL_TICKS, SMALL_TICK_LABELS, 6.9, 3, 0.8, 3)

    fig.savefig("out.png", dpi=100)


if __name__ == "__main__":
    main()
